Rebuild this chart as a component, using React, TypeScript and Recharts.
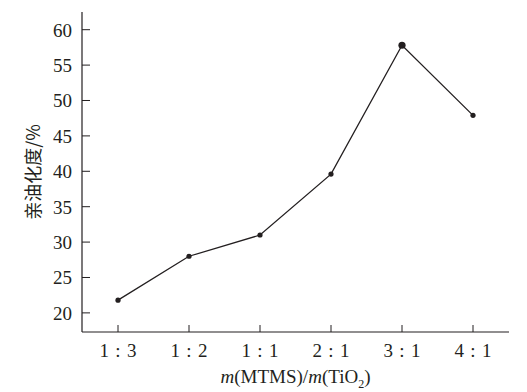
import React from "react";
import { LineChart, Line, XAxis, YAxis } from "recharts";

const categories = ["1 : 3", "1 : 2", "1 : 1", "2 : 1", "3 : 1", "4 : 1"];
const oleophilicity = [21.8, 28.0, 31.0, 39.6, 57.8, 47.9];
const yTicks = [20, 25, 30, 35, 40, 45, 50, 55, 60];

const data = categories.map((c, i) => ({ ratio: c, value: oleophilicity[i] }));

const INK = "#231f20";
const FONT = "Liberation Serif, DejaVu Serif, serif";

const Dot = (props: any) => {
  const { cx, cy, index } = props;
  if (cx == null || cy == null) return null;
  return <circle key={index} cx={cx} cy={cy} r={index === 4 ? 3.6 : 2.6} fill={INK} />;
};

const XTick = (props: any) => {
  const { x, payload } = props;
  return (
    <g>
      <line x1={x} x2={x} y1={332} y2={325} stroke={INK} strokeWidth={1} />
      <text
        x={x}
        y={357}
        textAnchor="middle"
        fill={INK}
        fontSize={19}
        fontFamily={FONT}
      >
        {String(payload.value).replace(/ /g, "\u2004")}
      </text>
    </g>
  );
};

const YTick = (props: any) => {
  const { y, payload } = props;
  return (
    <g>
      <line x1={82} x2={90} y1={y} y2={y} stroke={INK} strokeWidth={1} />
      <text
        x={72}
        y={y + 7}
        textAnchor="end"
        fill={INK}
        fontSize={19}
        fontFamily={FONT}
      >
        {payload.value}
      </text>
    </g>
  );
};

export default function App() {
  return (
    <div style={{ marginLeft: -8, marginTop: -8, background: "#fff", width: 527, height: 392 }}>
      <LineChart
        width={527}
        height={392}
        data={data}
        margin={{ top: 12, right: 18, bottom: 0, left: 22 }}
      >
        <XAxis
          dataKey="ratio"
          xAxisId="b"
          height={60}
          padding={{ left: 36, right: 36 }}
          axisLine={{ stroke: INK, strokeWidth: 1.2 }}
          tickLine={false}
          interval={0}
          tick={<XTick />}
          label={(p: any) => {
            const vb = p.viewBox;
            return (
              <text
                x={vb.x + vb.width / 2}
                y={383}
                textAnchor="middle"
                fill={INK}
                fontSize={19}
                fontFamily={FONT}
              >
                <tspan fontStyle="italic">m</tspan>
                <tspan>(MTMS)/</tspan>
                <tspan fontStyle="italic">m</tspan>
                <tspan>(TiO</tspan>
                <tspan fontSize={12} dy={5}>2</tspan>
                <tspan dy={-5}>)</tspan>
              </text>
            );
          }}
        />
        <XAxis
          dataKey="ratio"
          xAxisId="t"
          orientation="top"
          height={0}
          tick={false}
          tickLine={false}
          axisLine={{ stroke: INK, strokeWidth: 1.2 }}
        />
        <YAxis
          yAxisId="l"
          width={60}
          domain={[17.3, 62.5]}
          ticks={yTicks}
          allowDataOverflow
          axisLine={{ stroke: INK, strokeWidth: 1.2 }}
          tickLine={false}
          tick={<YTick />}
          label={() => (
            <text
              x={32}
              y={172}
              transform="rotate(-90 32 172)"
              textAnchor="middle"
              dominantBaseline="central"
              fill={INK}
              fontSize={18}
              fontFamily="Noto Sans CJK SC, sans-serif"
            >
              亲油化度/%
            </text>
          )}
        />
        <YAxis
          yAxisId="r"
          orientation="right"
          width={0}
          domain={[17.3, 62.5]}
          tick={false}
          tickLine={false}
          axisLine={{ stroke: INK, strokeWidth: 1.2 }}
        />
        <Line
          xAxisId="b"
          yAxisId="l"
          dataKey="value"
          stroke={INK}
          strokeWidth={1.3}
          dot={<Dot />}
          activeDot={false}
          isAnimationActive={false}
        />
      </LineChart>
    </div>
  );
}
